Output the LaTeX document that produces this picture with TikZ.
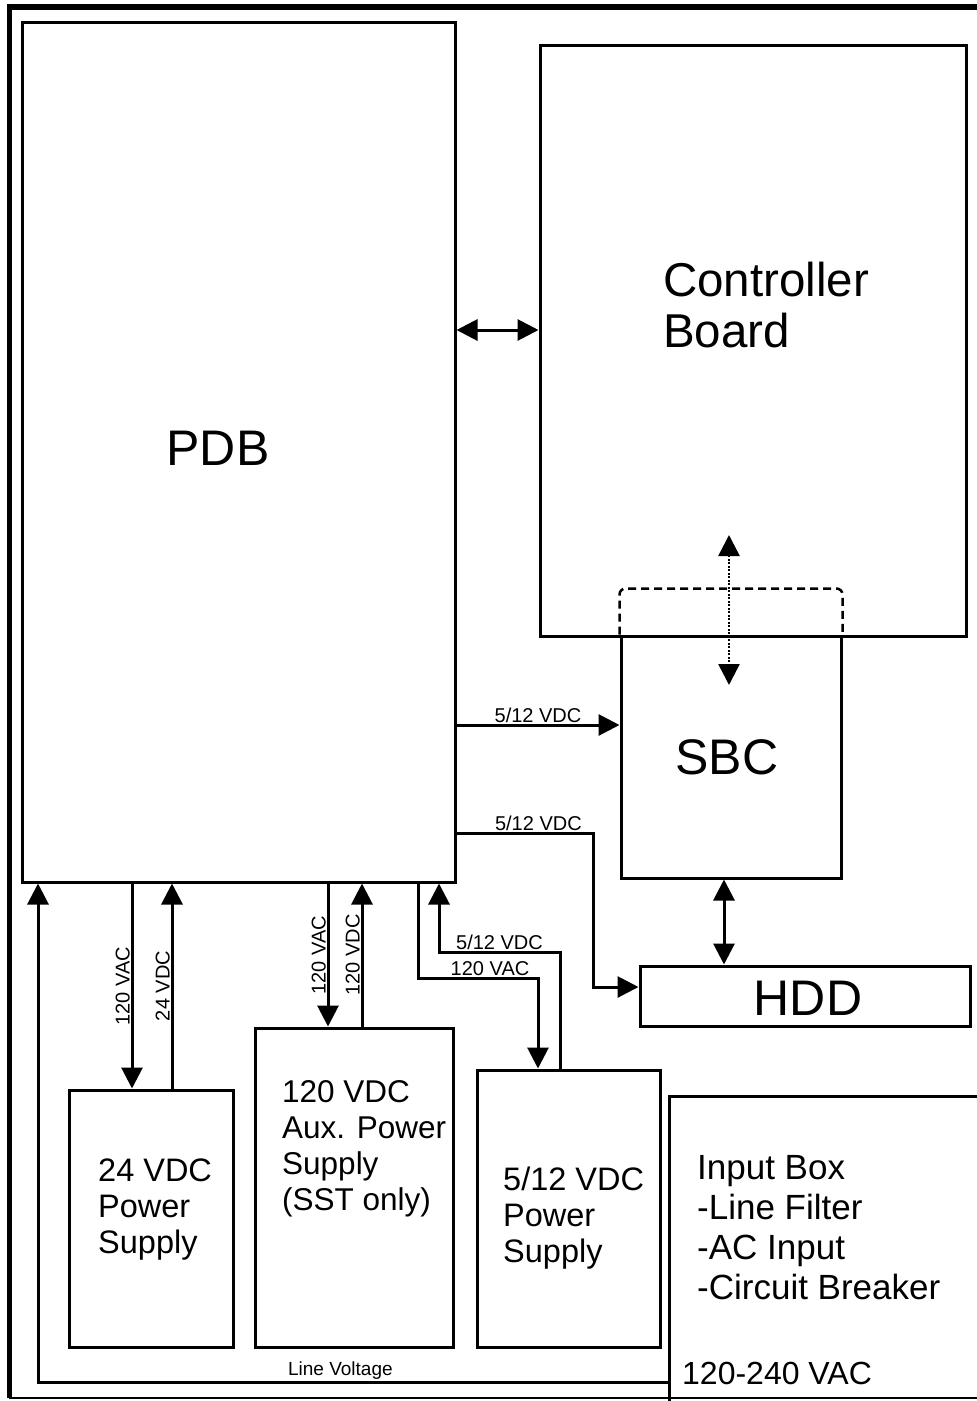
\documentclass[tikz,border=0pt]{standalone}
\usepackage{fontspec}
\setmainfont{Liberation Sans}
\usetikzlibrary{arrows.meta,calc}

\begin{document}
\begin{tikzpicture}[x=1pt, y=-1pt]
    \tikzset{box/.style={rectangle, draw, line width=3pt, inner sep=0pt}}
    \tikzset{arrow/.style={-{Triangle[length=21pt,width=21pt]}, line width=3pt}}
    \tikzset{dblarrow/.style={{Triangle[length=21pt,width=21pt]}-{Triangle[length=21pt,width=21pt]}, line width=3pt}}
    \tikzset{big/.style={inner sep=0pt, font=\fontsize{50}{55}\selectfont}}
    \tikzset{txt/.style={inner sep=0pt, anchor=west, align=left, font=\fontsize{32.5}{36}\selectfont}}
    \tikzset{lbl/.style={inner sep=0.8pt, font=\fontsize{20}{22}\selectfont}}

    \useasboundingbox (0,0) rectangle (977,1401);
    \clip (0,0) rectangle (977,1401);

    % Frame
    \draw[line width=6pt] (9,7) -- (977,7);
    \draw[line width=5pt] (9,4) -- (9,1398);
    \draw[line width=2pt] (9,1398) -- (977,1398);

    % Boards
    \node[box, minimum width=433pt, minimum height=860pt] (pdb) at (238.5,452) {};
    \node[big] (pdbtext) at (218,448) {PDB};
    \node[box, minimum width=426pt, minimum height=591pt] (ctrl) at (753,340.5) {};
    \node[big, anchor=west, align=left, font=\fontsize{47.5}{51}\selectfont] (ctrltext) at (663,305) {Controller\\Board};
    \node[box, minimum width=220pt, minimum height=242pt] (sbc) at (731,757) {};
    \node[big] (sbctext) at (727,757) {SBC};
    \node[box, minimum width=330pt, minimum height=60pt] (hdd) at (805,996) {};
    \node[big] (hddtext) at (808,998) {HDD};

    % Power supplies
    \node[box, minimum width=164pt, minimum height=257pt] (ps24) at (151,1218.5) {};
    \node[txt] (ps24text) at (98,1210) {24 VDC\\Power\\Supply};
    \node[box, minimum width=198pt, minimum height=319pt] (aux) at (354,1187.5) {};
    \node[txt, font=\fontsize{31.5}{36}\selectfont] (auxtext) at (282,1149) {120 VDC\\Aux. Power\\Supply\\(SST only)};
    \node[box, minimum width=183pt, minimum height=277pt] (ps512) at (568.5,1208.5) {};
    \node[txt] (ps512text) at (503,1218) {5/12 VDC\\Power\\Supply};

    % Input box
    \node[box, anchor=north west, minimum width=340pt, minimum height=330pt] (inbox) at (668,1095) {};
    \node[txt, font=\fontsize{35}{40}\selectfont] (intext) at (697,1228) {Input Box\\-Line Filter\\-AC Input\\-Circuit Breaker};
    \node[txt, font=\fontsize{32}{38}\selectfont] (vactext) at (682,1373) {120-240 VAC};

    % SBC header on controller
    \draw[line width=2.5pt, dash pattern=on 8pt off 5pt, rounded corners=6pt]
        (sbc.north west) -- ([yshift=46pt]sbc.north west) -- ([yshift=46pt]sbc.north east) -- (sbc.north east);
    \coordinate (dtop) at (729,535);
    \coordinate (dbot) at (729,685);
    \draw[dblarrow, line width=2.5pt, dash pattern=on 2pt off 1.5pt] (dtop) -- (dbot);

    % Arrows
    \draw[dblarrow] (pdb.east |- 0,330) -- (ctrl.west |- 0,330);
    \draw[arrow] (pdb.east |- 0,725) -- node[lbl, above] {5/12 VDC} (sbc.west |- 0,725);
    \draw[arrow] (pdb.east |- 0,833) -- node[lbl, above, pos=0.6] {5/12 VDC} (593,833) |- (hdd.west |- 0,987);
    \draw[dblarrow] (sbc.south -| 724,0) -- (hdd.north -| 724,0);

    \draw[arrow] (pdb.south -| 132,0) -- node[lbl, rotate=90, anchor=south] {120 VAC} (ps24.north -| 132,0);
    \draw[arrow] (ps24.north -| 172,0) -- node[lbl, rotate=90, anchor=south] {24 VDC} (pdb.south -| 172,0);
    \draw[arrow] (pdb.south -| 328,0) -- node[lbl, rotate=90, anchor=south] {120 VAC} (aux.north -| 328,0);
    \draw[arrow] (aux.north -| 362,0) -- node[lbl, rotate=90, anchor=south] {120 VDC} (pdb.south -| 362,0);
    \draw[arrow] (pdb.south -| 418,0) |- node[lbl, above, pos=0.8] {120 VAC} (538,978) -- (ps512.north -| 538,0);
    \draw[arrow] (ps512.north -| 560,0) |- node[lbl, above, pos=0.75] {5/12 VDC} (439,952) -- (pdb.south -| 439,0);

    % Line voltage
    \draw[arrow] (inbox.west |- 0,1382) -| node[lbl, above, pos=0.26, font=\fontsize{19}{20}\selectfont] {Line Voltage} (pdb.south -| 38,0);
\end{tikzpicture}
\end{document}
